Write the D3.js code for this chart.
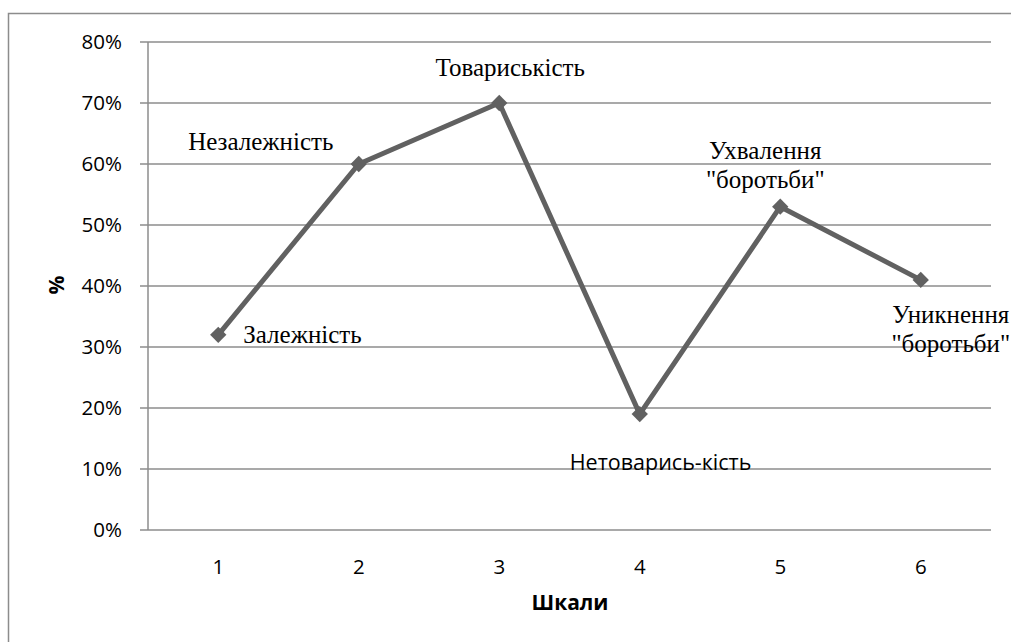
<!DOCTYPE html>
<html>
<head>
<meta charset="utf-8">
<script src="https://cdn.jsdelivr.net/npm/d3@7"></script>
<style>
  body { margin: 0; background: #fff; }
  svg { display: block; }
</style>
</head>
<body>
<svg id="chart" width="1011" height="642"></svg>
<script>
// chart values
var scales = [1, 2, 3, 4, 5, 6];
var percents = [32, 60, 70, 19, 53, 41];
var yTicks = [0, 10, 20, 30, 40, 50, 60, 70, 80];
var pointLabels = [
  ["Залежність"],
  ["Незалежність"],
  ["Товариськість"],
  ["Нетоварись-кість"],
  ["Ухвалення", "\"боротьби\""],
  ["Уникнення", "\"боротьби\""]
];

var svg = d3.select("#chart");
var margin = {left: 148, top: 42};
var plotRight = 991, plotBottom = 530;

var sans = "'Open Sans', 'Noto Sans', sans-serif";
var serif = "'Liberation Serif', 'Times New Roman', serif";

// outer frame (cut off at right and bottom in the original)
svg.append("rect")
    .attr("x", 8.5).attr("y", 13.5)
    .attr("width", 1100).attr("height", 700)
    .attr("fill", "none")
    .attr("stroke", "#8c8c8c")
    .attr("stroke-width", 1.5);

var x = d3.scaleBand()
    .domain(scales)
    .range([margin.left, plotRight]);

var y = d3.scaleLinear()
    .domain([0, 80])
    .range([plotBottom, margin.top]);

// gridlines
svg.append("g")
    .selectAll("line")
    .data(yTicks)
    .join("line")
    .attr("x1", margin.left - 8)
    .attr("x2", plotRight)
    .attr("y1", function(d) { return y(d); })
    .attr("y2", function(d) { return y(d); })
    .attr("stroke", "#8c8c8c")
    .attr("stroke-width", 1.5);

// y axis line
svg.append("line")
    .attr("x1", margin.left).attr("x2", margin.left)
    .attr("y1", y(80)).attr("y2", y(0))
    .attr("stroke", "#8c8c8c")
    .attr("stroke-width", 1.5);

// y tick labels
svg.append("g")
    .selectAll("text")
    .data(yTicks)
    .join("text")
    .attr("font-family", sans)
    .attr("font-size", 20.5)
    .attr("x", margin.left - 26)
    .attr("y", function(d) { return y(d); })
    .attr("dy", "0.36em")
    .attr("text-anchor", "end")
    .text(function(d) { return d + "%"; });

// x tick labels
svg.append("g")
    .selectAll("text")
    .data(scales)
    .join("text")
    .attr("font-family", sans)
    .attr("font-size", 20.5)
    .attr("x", function(d) { return x(d) + x.bandwidth() / 2; })
    .attr("y", plotBottom + 44)
    .attr("text-anchor", "middle")
    .text(function(d) { return d; });

// axis titles
svg.append("text")
    .attr("font-family", sans)
    .attr("font-size", 21)
    .attr("font-weight", "bold")
    .attr("transform", "translate(64,285) rotate(-90)")
    .attr("text-anchor", "middle")
    .text("%");

svg.append("text")
    .attr("font-family", sans)
    .attr("font-size", 21)
    .attr("font-weight", "bold")
    .attr("x", 570)
    .attr("y", 610)
    .attr("text-anchor", "middle")
    .text("Шкали");

var points = scales.map(function(s, i) {
  return {s: s, v: percents[i], label: pointLabels[i]};
});

var line = d3.line()
    .x(function(d) { return x(d.s) + x.bandwidth() / 2; })
    .y(function(d) { return y(d.v); });

svg.append("path")
    .datum(points)
    .attr("d", line)
    .attr("fill", "none")
    .attr("stroke", "#616161")
    .attr("stroke-width", 5)
    .attr("stroke-linejoin", "round");

svg.append("g")
    .selectAll("path")
    .data(points)
    .join("path")
    .attr("d", d3.symbol().type(d3.symbolDiamond2).size(170))
    .attr("transform", function(d) {
      return "translate(" + (x(d.s) + x.bandwidth() / 2) + "," + y(d.v) + ")";
    })
    .attr("fill", "#616161");

// point labels, placed next to each marker like in the original
var labelPos = [
  {dx: 25, dy: 8, anchor: "start", font: serif, size: 25},
  {dx: -98, dy: -14, anchor: "middle", font: serif, size: 25},
  {dx: 11, dy: -27, anchor: "middle", font: serif, size: 25},
  {dx: -70, dy: 56, anchor: "start", font: sans, size: 21.5},
  {dx: -15, dy: -48, anchor: "middle", font: serif, size: 25},
  {dx: 30, dy: 43, anchor: "middle", font: serif, size: 25}
];

var lab = svg.append("g")
    .selectAll("text")
    .data(points)
    .join("text")
    .attr("font-family", function(d, i) { return labelPos[i].font; })
    .attr("font-size", function(d, i) { return labelPos[i].size; })
    .attr("x", function(d, i) { return x(d.s) + x.bandwidth() / 2 + labelPos[i].dx; })
    .attr("y", function(d, i) { return y(d.v) + labelPos[i].dy; })
    .attr("text-anchor", function(d, i) { return labelPos[i].anchor; });

lab.selectAll("tspan")
    .data(function(d, i) {
      return d.label.map(function(t) { return {t: t, i: i}; });
    })
    .join("tspan")
    .attr("x", function(d) {
      return x(points[d.i].s) + x.bandwidth() / 2 + labelPos[d.i].dx;
    })
    .attr("dy", function(d, j) { return j === 0 ? 0 : 29; })
    .text(function(d) { return d.t; });
</script>
</body>
</html>
